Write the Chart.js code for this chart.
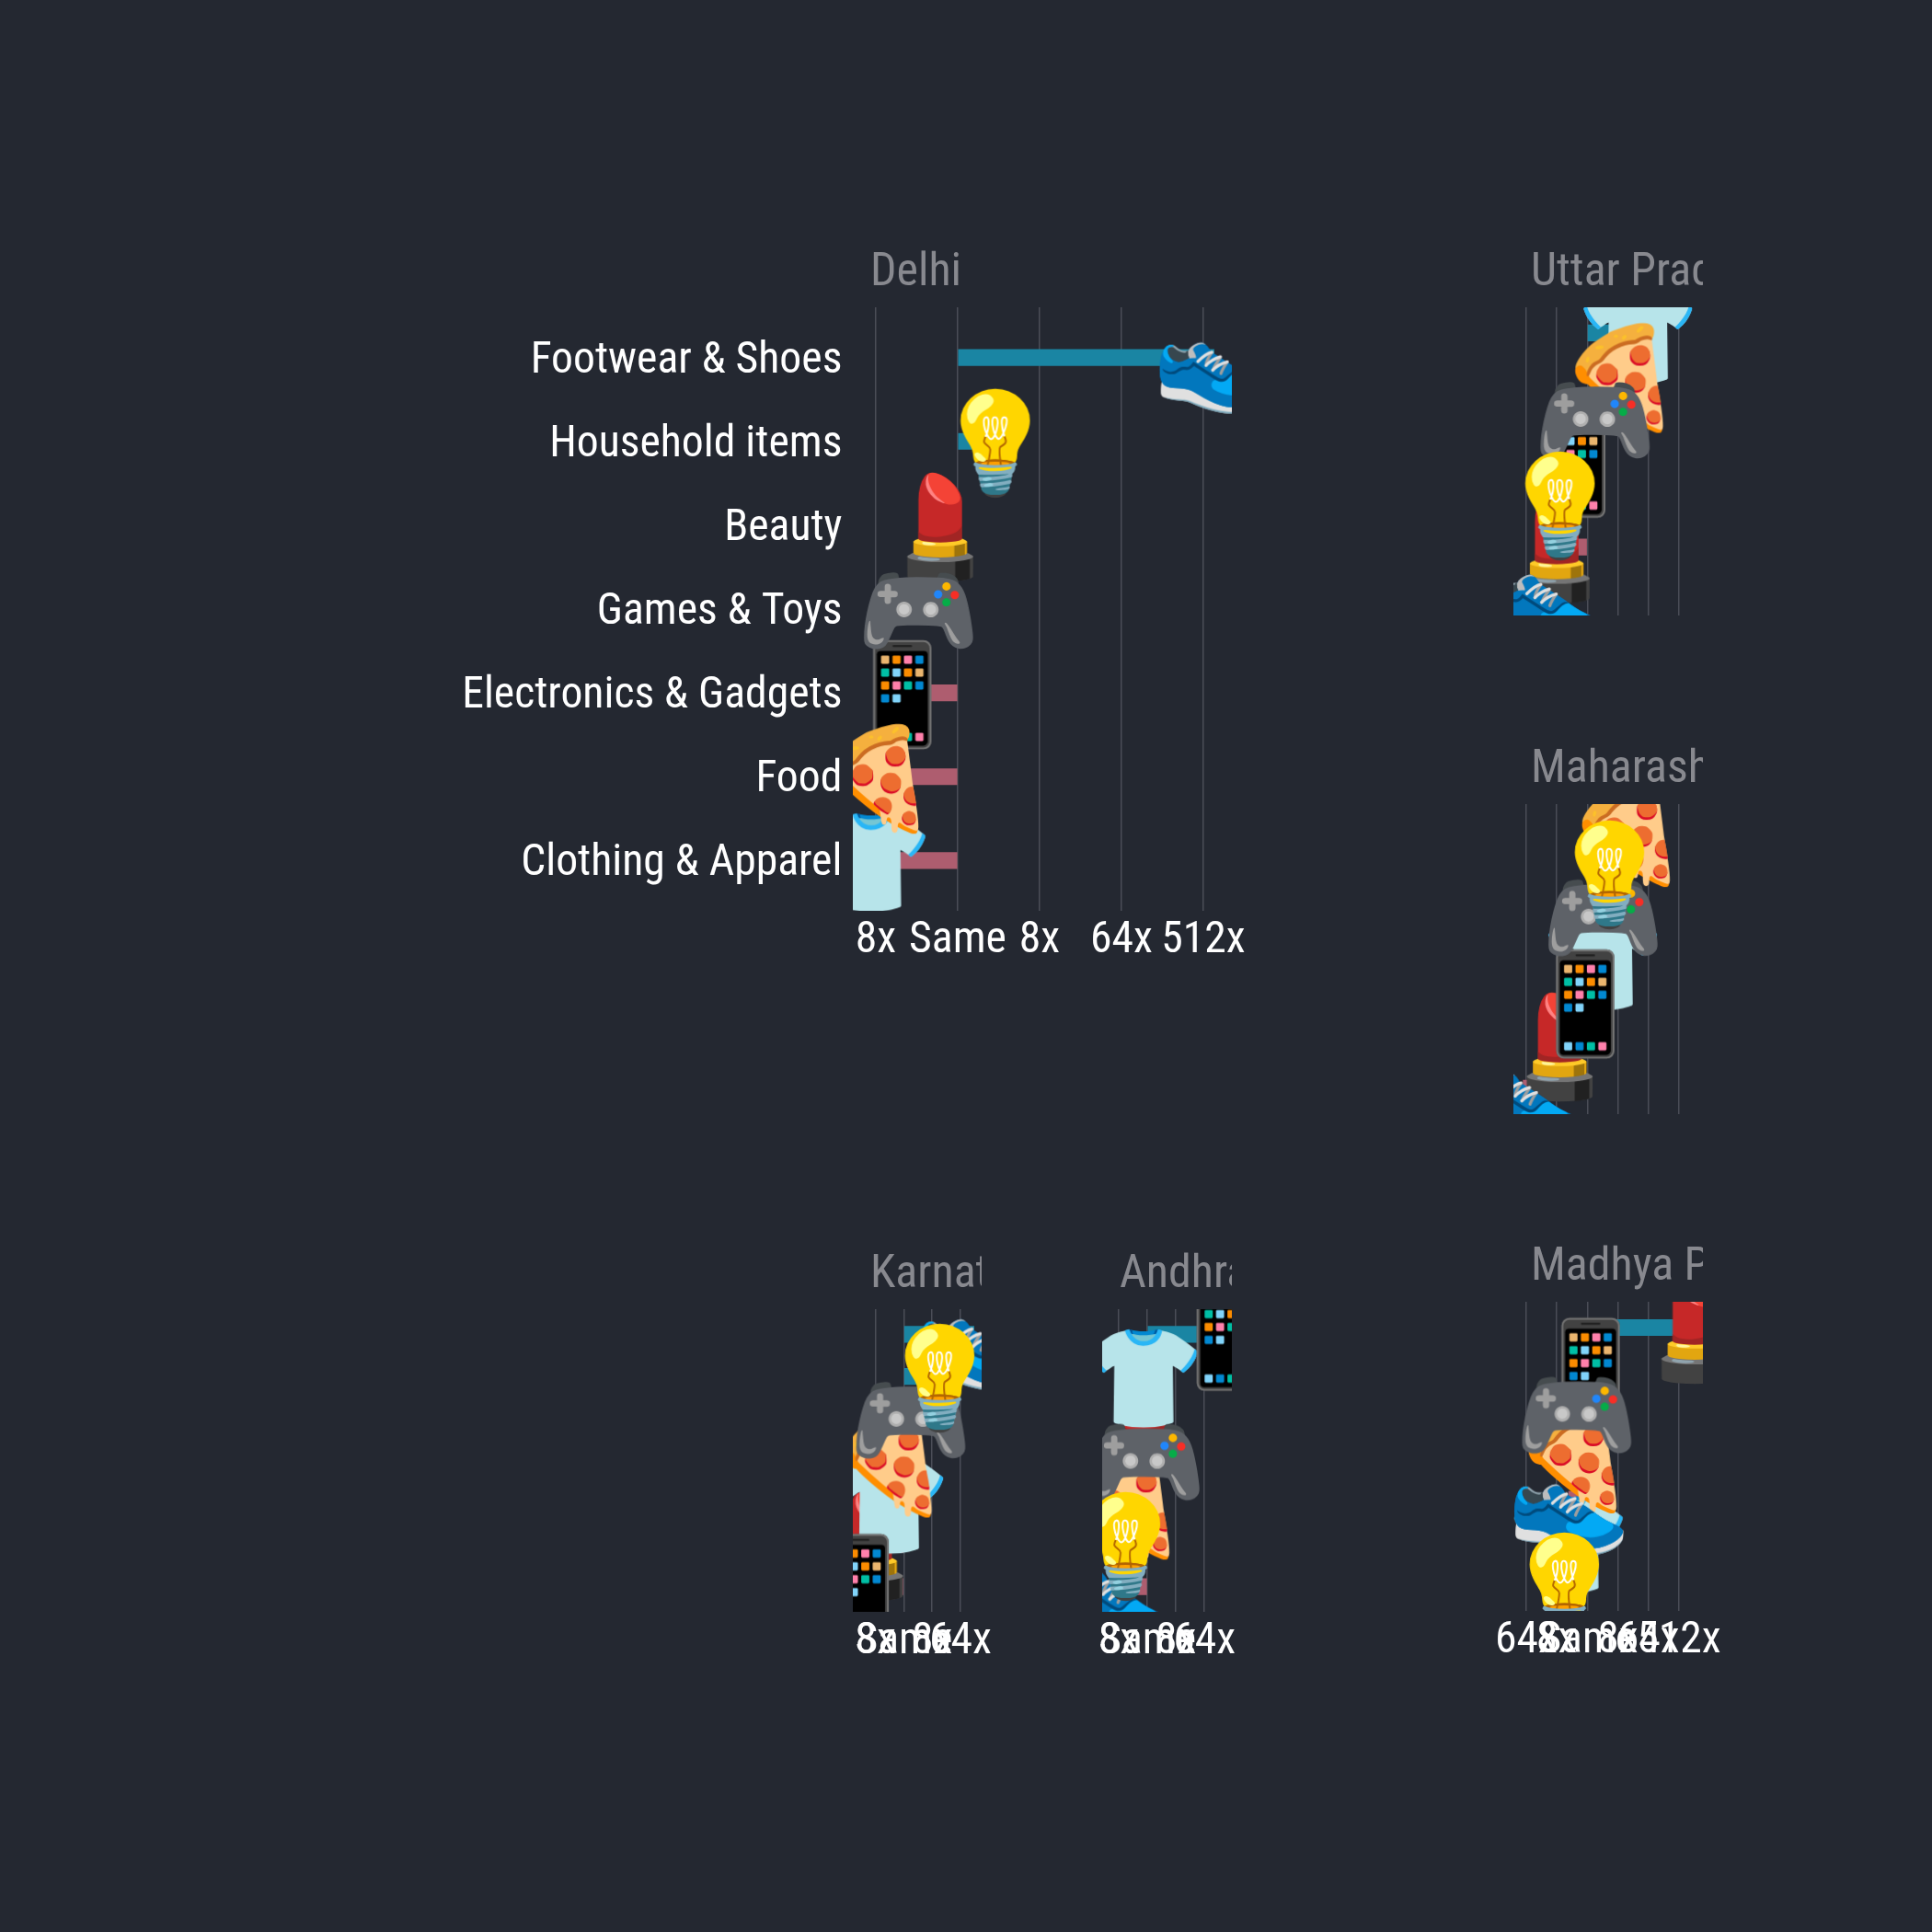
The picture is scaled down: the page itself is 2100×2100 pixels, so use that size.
<!DOCTYPE html>
<html>
<head>
<meta charset="utf-8">
<title>India states</title>
<style>
body { margin: 0; background: #242831; width: 2100px; height: 2100px; overflow: hidden; }
canvas { position: absolute; left: 0; top: 0; }
</style>
</head>
<body>
<script src="https://cdn.jsdelivr.net/npm/chart.js@4"></script>
<script>
// log8 scale: 0 = same, 1 = 8x, 2 = 64x, 3 = 512x
const emojis = { Beauty: '💄', Clothing: '👕', Electronics: '📱', Food: '🍕', Footwear: '👟', Games: '🎮', Household: '💡' };
const paintOrder = ['Household', 'Games', 'Footwear', 'Food', 'Electronics', 'Clothing', 'Beauty'];

const axisLabels = ['Footwear & Shoes', 'Household items', 'Beauty', 'Games & Toys', 'Electronics & Gadgets', 'Food', 'Clothing & Apparel'];

const delhiRows = ['Footwear', 'Household', 'Beauty', 'Games', 'Electronics', 'Food', 'Clothing'];
const delhiValues = [3.13, 0.455, -0.217, -0.485, -0.68, -1.0, -1.06];
const upRows = ['Clothing', 'Food', 'Games', 'Electronics', 'Household', 'Beauty', 'Footwear'];
const upValues = [1.65, 1.085, 0.24, -0.37, -0.9, -1.01, -1.45];
const mahRows = ['Food', 'Household', 'Games', 'Clothing', 'Electronics', 'Beauty', 'Footwear'];
const mahValues = [1.31, 0.72, 0.5, 0.5, -0.075, -0.91, -2.1];
const karRows = ['Footwear', 'Household', 'Games', 'Food', 'Clothing', 'Beauty', 'Electronics'];
const karValues = [2.48, 1.26, 0.23, -0.52, -0.53, -1.2, -1.57];
const apRows = ['Electronics', 'Clothing', 'Beauty', 'Games', 'Food', 'Household', 'Footwear'];
const apValues = [2.74, -0.14, -0.13, -0.1, -0.72, -0.77, -1.27];
const mpRows = ['Beauty', 'Electronics', 'Games', 'Food', 'Footwear', 'Clothing', 'Household'];
const mpValues = [3.5, 0.1, -0.36, -0.44, -0.61, -0.62, -0.76];

const ticksAll = [-2, -1, 0, 1, 2, 3];
const labelsAll = ['64x', '8x', 'Same', '8x', '64x', '512x'];

const fontFamily = "'Roboto Condensed'";

function emojiCanvas(ch) {
    var c = document.createElement('canvas');
    c.width = 180;
    c.height = 180;
    var x = c.getContext('2d');
    x.font = "108px 'Noto Color Emoji'";
    x.textAlign = 'center';
    x.textBaseline = 'middle';
    x.fillText(ch, 91, 97);
    return c;
}
const emojiImages = {};
Object.keys(emojis).forEach(function(k) { emojiImages[k] = emojiCanvas(emojis[k]); });

const panelTitle = {
    id: 'panelTitle',
    afterDraw: function(chart, args, opts) {
        var ctx = chart.ctx, a = chart.chartArea;
        ctx.save();
        ctx.beginPath();
        ctx.rect(a.left, 0, a.right - a.left, 2100);
        ctx.clip();
        ctx.font = '50px ' + fontFamily;
        ctx.fillStyle = '#88898f';
        ctx.textBaseline = 'alphabetic';
        ctx.fillText(opts.text, a.left + 19, opts.y);
        ctx.restore();
    }
};

function makePanel(title, rows, values, box) {
    var canvas = document.createElement('canvas');
    canvas.width = 2100;
    canvas.height = 2100;
    document.body.appendChild(canvas);

    var datasets = [{
        type: 'bar',
        data: values.map(function(v, i) { return { x: v, y: i }; }),
        backgroundColor: values.map(function(v) { return v > 0 ? '#1a85a3' : '#ae5d6f'; }),
        barThickness: 17.5,
        order: 10
    }];
    rows.forEach(function(r, i) {
        datasets.push({
            type: 'scatter',
            label: r,
            data: [{ x: values[i], y: i }],
            pointStyle: emojiImages[r],
            pointRadius: 10,
            clip: 0,
            order: paintOrder.indexOf(r)
        });
    });

    new Chart(canvas, {
        type: 'bar',
        data: { datasets: datasets },
        plugins: [panelTitle],
        options: {
            indexAxis: 'y',
            responsive: false,
            animation: false,
            layout: { autoPadding: false, padding: { left: 0, right: 2100 - box.right, top: box.top, bottom: 0 } },
            plugins: { legend: { display: false }, tooltip: { enabled: false }, panelTitle: { text: title, y: box.titleY } },
            scales: {
                x: {
                    type: 'linear',
                    min: box.min,
                    max: box.max,
                    grid: { color: '#4a4d57', lineWidth: 1.5, drawTicks: false },
                    border: { display: false },
                    afterBuildTicks: function(s) { s.ticks = box.ticks.map(function(v) { return { value: v }; }); },
                    afterFit: function(s) { s.height = 2100 - box.bottom; },
                    ticks: {
                        display: box.showX,
                        autoSkip: false,
                        maxRotation: 0,
                        minRotation: 0,
                        padding: 4,
                        color: '#ffffff',
                        font: { family: fontFamily, size: 47.7 },
                        callback: function(v) { return labelsAll[ticksAll.indexOf(v)]; }
                    }
                },
                y: {
                    type: 'linear',
                    offset: false,
                    reverse: true,
                    min: -0.6,
                    max: 6.6,
                    grid: { display: false },
                    border: { display: false },
                    afterBuildTicks: function(s) { s.ticks = rows.map(function(r, i) { return { value: i }; }); },
                    afterFit: function(s) { s.width = box.left; },
                    ticks: {
                        display: box.showY,
                        autoSkip: false,
                        padding: 3.6,
                        labelOffset: 4,
                        color: '#ffffff',
                        font: { family: fontFamily, size: 47.7 },
                        callback: function(v) { return axisLabels[v]; }
                    }
                }
            }
        }
    });
}

makePanel('Delhi', delhiRows, delhiValues, { left: 927, right: 1339, top: 334, bottom: 990, titleY: 310, min: -1.281, max: 3.348, ticks: [-1, 0, 1, 2, 3], showX: true, showY: true });
makePanel('Uttar Pradesh', upRows, upValues, { left: 1645, right: 1851, top: 334, bottom: 669, titleY: 310, min: -2.419, max: 3.786, ticks: ticksAll, showX: false, showY: false });
makePanel('Maharashtra', mahRows, mahValues, { left: 1645, right: 1851, top: 874, bottom: 1211, titleY: 850, min: -2.419, max: 3.786, ticks: ticksAll, showX: false, showY: false });
makePanel('Karnataka', karRows, karValues, { left: 927, right: 1067, top: 1423, bottom: 1752, titleY: 1399, min: -1.80, max: 2.75, ticks: [-1, 0, 1, 2], showX: true, showY: false });
makePanel('Andhra Pradesh', apRows, apValues, { left: 1198, right: 1339, top: 1423, bottom: 1752, titleY: 1399, min: -1.58, max: 2.96, ticks: [-1, 0, 1, 2], showX: true, showY: false });
makePanel('Madhya Pradesh', mpRows, mpValues, { left: 1645, right: 1851, top: 1415, bottom: 1751, titleY: 1391, min: -2.419, max: 3.786, ticks: ticksAll, showX: true, showY: false });
</script>
</body>
</html>
